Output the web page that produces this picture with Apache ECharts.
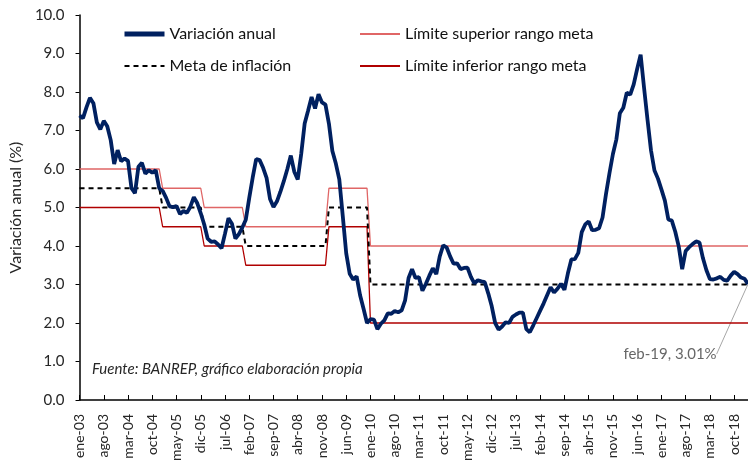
<!DOCTYPE html>
<html>
<head>
<meta charset="utf-8">
<script src="https://cdn.jsdelivr.net/npm/echarts@6/dist/echarts.min.js"></script>
<style>
  html, body { margin: 0; padding: 0; background: #fff; }
  #chart { width: 748px; height: 469px; }
</style>
</head>
<body>
<div id="chart"></div>
<script>
// meses y años del eje
const meses = ['ene', 'feb', 'mar', 'abr', 'may', 'jun', 'jul', 'ago', 'sep', 'oct', 'nov', 'dic'];
const anios = [2003, 2004, 2005, 2006, 2007, 2008, 2009, 2010, 2011, 2012, 2013, 2014, 2015, 2016, 2017, 2018, 2019];

// variación anual IPC (%), ene-03 a feb-19
const variacionAnual = [
  7.39, 7.32, 7.60, 7.85, 7.71, 7.21, 7.03, 7.25, 7.11, 6.75, 6.13, 6.49,
  6.20, 6.27, 6.21, 5.50, 5.37, 6.06, 6.16, 5.88, 5.97, 5.90, 5.97, 5.50,
  5.43, 5.25, 5.03, 5.01, 5.04, 4.83, 4.91, 4.86, 5.02, 5.27, 5.11, 4.85,
  4.56, 4.19, 4.11, 4.12, 4.04, 3.94, 4.32, 4.72, 4.58, 4.19, 4.31, 4.48,
  4.68, 5.25, 5.78, 6.26, 6.23, 6.03, 5.77, 5.22, 5.01, 5.16, 5.41, 5.69,
  6.00, 6.35, 5.93, 5.73, 6.39, 7.18, 7.52, 7.87, 7.57, 7.94, 7.73, 7.67,
  7.18, 6.47, 6.14, 5.73, 4.78, 3.81, 3.28, 3.13, 3.21, 2.72, 2.37, 2.00,
  2.10, 2.09, 1.84, 1.98, 2.07, 2.25, 2.24, 2.31, 2.28, 2.33, 2.59, 3.17,
  3.40, 3.17, 3.19, 2.84, 3.02, 3.23, 3.42, 3.27, 3.73, 4.02, 3.96, 3.73,
  3.54, 3.55, 3.40, 3.43, 3.44, 3.20, 3.03, 3.11, 3.08, 3.06, 2.77, 2.44,
  2.00, 1.83, 1.91, 2.02, 2.00, 2.16, 2.22, 2.27, 2.27, 1.84, 1.76, 1.94,
  2.13, 2.32, 2.51, 2.72, 2.93, 2.79, 2.89, 3.02, 2.86, 3.29, 3.65, 3.66,
  3.82, 4.36, 4.56, 4.64, 4.41, 4.42, 4.46, 4.74, 5.35, 5.89, 6.39, 6.77,
  7.45, 7.59, 7.98, 7.93, 8.20, 8.60, 8.97, 8.10, 7.27, 6.48, 5.96, 5.75,
  5.47, 5.18, 4.69, 4.66, 4.37, 3.99, 3.40, 3.87, 3.97, 4.05, 4.12, 4.09,
  3.68, 3.37, 3.14, 3.13, 3.16, 3.20, 3.12, 3.10, 3.23, 3.33, 3.27, 3.18,
  3.15, 3.01
];

// meta y rango por año (2003..2019)
const metaAnual   = [5.5, 5.5, 5.0, 4.5, 4.0, 4.0, 5.0, 3, 3, 3, 3, 3, 3, 3, 3, 3, 3];
const limSupAnual = [6.0, 6.0, 5.5, 5.0, 4.5, 4.5, 5.5, 4, 4, 4, 4, 4, 4, 4, 4, 4, 4];
const limInfAnual = [5.0, 5.0, 4.5, 4.0, 3.5, 3.5, 4.5, 2, 2, 2, 2, 2, 2, 2, 2, 2, 2];

// armar categorías mensuales y series de escalón
const categorias = [];
const meta = [], limSup = [], limInf = [];
for (let i = 0; i < variacionAnual.length; i++) {
  const a = Math.floor(i / 12);
  categorias.push(meses[i % 12] + '-' + String(anios[a]).slice(2));
  meta.push(metaAnual[a]);
  limSup.push(limSupAnual[a]);
  limInf.push(limInfAnual[a]);
}
const ultimo = variacionAnual.length - 1;

const fuente = 'Lato, "Noto Sans", sans-serif';
const texto = '#262626';

const leyendaBase = {
  orient: 'vertical', top: 21, itemGap: 16,
  itemWidth: 40, itemHeight: 14,
  itemStyle: { opacity: 0 },
  textStyle: { fontSize: 16, color: '#111', fontFamily: fuente }
};

const chart = echarts.init(document.getElementById('chart'));
chart.setOption({
  animation: false,
  textStyle: { fontFamily: fuente },
  grid: { left: 73, top: 15, width: 676, bottom: 69, containLabel: false },
  legend: [
    Object.assign({
      data: [{ name: 'Variación anual', lineStyle: { width: 5 } }, 'Meta de inflación'],
      left: 117
    }, leyendaBase),
    Object.assign({ data: ['Límite superior rango meta', 'Límite inferior rango meta'], left: 354 }, leyendaBase)
  ],
  xAxis: {
    type: 'category',
    data: categorias,
    boundaryGap: false,
    axisLine: { lineStyle: { color: '#000', width: 1.5 } },
    axisTick: { inside: true, length: 5, interval: 6, lineStyle: { color: '#000' } },
    axisLabel: { interval: 6, rotate: 90, margin: 14, fontSize: 14, color: texto, fontFamily: fuente },
    splitLine: { show: false }
  },
  yAxis: {
    type: 'value',
    min: 0, max: 10, interval: 1,
    name: 'Variación anual (%)',
    nameLocation: 'middle',
    nameGap: 50,
    nameTextStyle: { fontSize: 16, color: texto, fontFamily: fuente },
    axisLine: { show: true, lineStyle: { color: '#000', width: 1.5 } },
    axisTick: { show: true, length: 4, lineStyle: { color: '#000' } },
    axisLabel: { fontSize: 15, color: texto, margin: 15, formatter: v => v.toFixed(1) },
    splitLine: { show: false }
  },
  series: [
    {
      name: 'Límite superior rango meta',
      type: 'line', data: limSup, symbol: 'none',
      lineStyle: { color: '#e06666', width: 1.3 },
      itemStyle: { color: '#e06666' }
    },
    {
      name: 'Límite inferior rango meta',
      type: 'line', data: limInf, symbol: 'none',
      lineStyle: { color: '#b00000', width: 1.3 },
      itemStyle: { color: '#b00000' }
    },
    {
      name: 'Meta de inflación',
      type: 'line', data: meta, symbol: 'none',
      lineStyle: { color: '#000', width: 2, type: [5, 4] },
      itemStyle: { color: '#000' }
    },
    {
      name: 'Variación anual',
      type: 'line', data: variacionAnual, symbol: 'none',
      lineStyle: { color: '#002060', width: 3.8 },
      itemStyle: { color: '#002060' }
    },
    {
      // etiqueta del último dato
      name: 'anotacion',
      type: 'scatter',
      data: [[categorias[ultimo], variacionAnual[ultimo]]],
      symbolSize: 1,
      itemStyle: { color: 'transparent' },
      label: {
        show: true, position: 'inside',
        formatter: categorias[ultimo] + ', ' + variacionAnual[ultimo].toFixed(2) + '%',
        fontSize: 15, color: '#404040', fontFamily: fuente
      },
      labelLine: { show: true, lineStyle: { color: '#a6a6a6', width: 1 } },
      labelLayout: { dx: -78, dy: 70 }
    }
  ],
  graphic: [
    {
      type: 'text', left: 92, top: 362,
      style: {
        text: 'Fuente: BANREP, gráfico elaboración propia',
        fontSize: 15, fontStyle: 'italic', fill: texto, fontFamily: fuente
      }
    }
  ]
});
</script>
</body>
</html>
